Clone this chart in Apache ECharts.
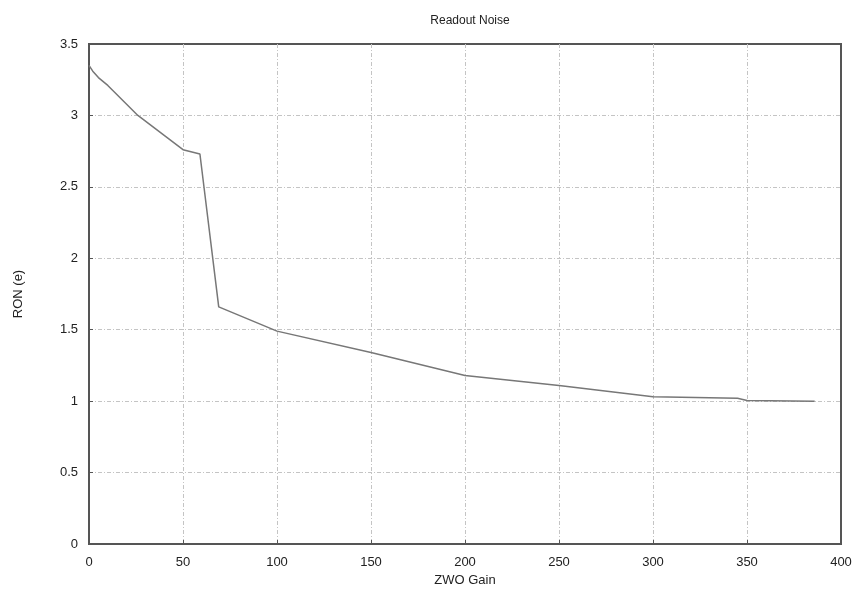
<!DOCTYPE html>
<html>
<head>
<meta charset="utf-8">
<script src="https://cdn.jsdelivr.net/npm/echarts@6/dist/echarts.min.js"></script>
<style>html,body{margin:0;padding:0;background:#fff}#c{width:860px;height:596px}</style>
</head>
<body>
<div id="c"></div>
<script>
const gain = [0, 2, 5, 10, 26, 40, 50, 59, 69, 100, 150, 200, 250, 300, 345, 350, 386];
const ron = [3.35, 3.31, 3.265, 3.21, 3.0, 2.86, 2.76, 2.73, 1.66, 1.49, 1.34, 1.18, 1.11, 1.03, 1.02, 1.005, 1.0];
const xTicks = [0, 50, 100, 150, 200, 250, 300, 350, 400];
const yTicks = [0, 0.5, 1, 1.5, 2, 2.5, 3, 3.5];

const font = 'Liberation Sans';
const chart = echarts.init(document.getElementById('c'), null, {renderer: 'canvas'});
const grid = {color: '#c4c4c4', type: [4, 2, 1, 2], width: 1};
chart.setOption({
  animation: false,
  backgroundColor: '#fff',
  title: {
    text: 'Readout Noise', left: 465, top: 10, textAlign: 'center',
    textStyle: {fontFamily: font, fontSize: 12, fontWeight: 'normal', color: '#222'}
  },
  grid: {left: 89, right: 19, top: 44, bottom: 52, show: true, borderColor: '#555', borderWidth: 2},
  xAxis: {
    type: 'value', min: 0, max: 400, interval: 50,
    name: 'ZWO Gain', nameLocation: 'middle', nameGap: 27,
    nameTextStyle: {fontFamily: font, fontSize: 13, color: '#222'},
    axisLine: {show: true, lineStyle: {color: '#555', width: 2}},
    axisTick: {show: true, inside: true, length: 4, lineStyle: {color: '#555'}},
    axisLabel: {fontFamily: font, fontSize: 13, color: '#222', margin: 12,
      formatter: v => xTicks.includes(v) ? String(v) : ''},
    splitLine: {show: true, showMinLine: false, showMaxLine: false, lineStyle: grid}
  },
  yAxis: {
    type: 'value', min: 0, max: 3.5, interval: 0.5,
    name: 'RON (e)', nameLocation: 'middle', nameGap: 64,
    nameTextStyle: {fontFamily: font, fontSize: 13, color: '#222'},
    axisLine: {show: true, lineStyle: {color: '#555', width: 2}},
    axisTick: {show: true, inside: true, length: 4, lineStyle: {color: '#555'}},
    axisLabel: {fontFamily: font, fontSize: 13, color: '#222', margin: 11,
      formatter: v => yTicks.includes(v) ? String(v) : ''},
    splitLine: {show: true, showMinLine: false, showMaxLine: false, lineStyle: grid}
  },
  series: [{
    type: 'line',
    data: gain.map((g, i) => [g, ron[i]]),
    showSymbol: false,
    lineStyle: {color: '#777', width: 1.5},
    z: 3
  }]
});
</script>
</body>
</html>
